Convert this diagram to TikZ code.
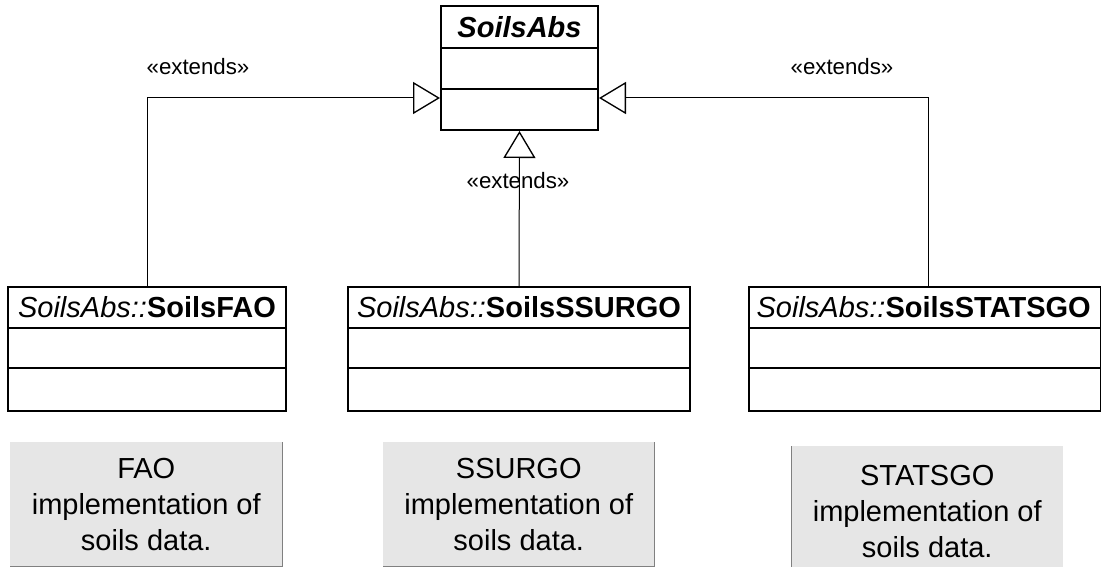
\documentclass[tikz,border=0pt]{standalone}
\usepackage{fontspec}
\setmainfont{Liberation Sans}
\usetikzlibrary{arrows.meta}
\definecolor{notefill}{RGB}{230,230,230}
\definecolor{noteedge}{RGB}{128,128,128}
\begin{document}
\begin{tikzpicture}[x=0.75pt,y=-0.75pt,
  cls/.style={draw, line width=1.5pt, fill=white, inner sep=0pt, anchor=north west, minimum height=93pt},
  clsline/.style={line width=1.5pt},
  title/.style={font=\fontsize{21.75}{26}\selectfont, inner sep=0pt, anchor=north},
  note/.style={fill=notefill, inner sep=0pt, anchor=north west, align=center,
    font=\fontsize{21.75}{27}\selectfont},
  noteline/.style={draw=noteedge, line width=0.75pt},
  ext/.style={line width=0.75pt, -{Triangle[open, fill=white, line width=1pt, length=20.25pt, width=24pt]}},
  lbl/.style={font=\fontsize{16.7}{20}\selectfont, inner sep=0pt}]
\useasboundingbox (0,0) rectangle (1101,567);

% abstract class
\node[cls, minimum width=117.75pt] (abs) at (440,5) {};
\node[title, minimum height=32.25pt] (absT) at (abs.north) {\textbf{\textit{SoilsAbs}}};
\draw[clsline] ([yshift=-32.25pt]abs.north west) -- ([yshift=-32.25pt]abs.north east);
\draw[clsline] ([yshift=-63pt]abs.north west) -- ([yshift=-63pt]abs.north east);

% concrete classes
\node[cls, minimum width=208.5pt] (fao) at (7,286) {};
\node[title, minimum height=31.5pt] (faoT) at (fao.north) {\textit{SoilsAbs::}\textbf{SoilsFAO}};
\draw[clsline] ([yshift=-31.5pt]fao.north west) -- ([yshift=-31.5pt]fao.north east);
\draw[clsline] ([yshift=-61.5pt]fao.north west) -- ([yshift=-61.5pt]fao.north east);

\node[cls, minimum width=256.5pt] (ssurgo) at (347,286) {};
\node[title, minimum height=31.5pt] (ssurgoT) at (ssurgo.north) {\textit{SoilsAbs::}\textbf{SoilsSSURGO}};
\draw[clsline] ([yshift=-31.5pt]ssurgo.north west) -- ([yshift=-31.5pt]ssurgo.north east);
\draw[clsline] ([yshift=-61.5pt]ssurgo.north west) -- ([yshift=-61.5pt]ssurgo.north east);

\node[cls, minimum width=264pt] (statsgo) at (748,286) {};
\node[title, minimum height=31.5pt] (statsgoT) at ([xshift=-1pt]statsgo.north) {\textit{SoilsAbs::}\textbf{SoilsSTATSGO}};
\draw[clsline] ([yshift=-31.5pt]statsgo.north west) -- ([yshift=-31.5pt]statsgo.north east);
\draw[clsline] ([yshift=-61.5pt]statsgo.north west) -- ([yshift=-61.5pt]statsgo.north east);

% connectors
\coordinate (lvl) at (0,98);
\draw[ext] (fao.north) |- (abs.west |- lvl);
\draw[ext] (ssurgo.north) -- (abs.south);
\draw[ext] ([xshift=2.6pt]statsgo.north) |- (abs.east |- lvl);

% labels
\node[lbl] (l1) at (198,67) {«extends»};
\node[lbl] (l2) at (842,67) {«extends»};
\node[lbl] (l3) at (518,181) {«extends»};

% notes
\node[note, minimum width=204pt, minimum height=93pt] (faoN) at (10,442)
  {FAO\\implementation of\\soils data.};
\draw[noteline] (faoN.north east) -- (faoN.south east) -- (faoN.south west);
\node[note, minimum width=203.25pt, minimum height=93pt] (ssurgoN) at (383,442)
  {SSURGO\\implementation of\\soils data.};
\draw[noteline] (ssurgoN.north east) -- (ssurgoN.south east) -- (ssurgoN.south west);
\node[note, minimum width=204pt, minimum height=97.5pt] (statsgoN) at (791,446)
  {STATSGO\\implementation of\\soils data.};
\draw[noteline] (statsgoN.north west) -- (statsgoN.south west);
\end{tikzpicture}
\end{document}
